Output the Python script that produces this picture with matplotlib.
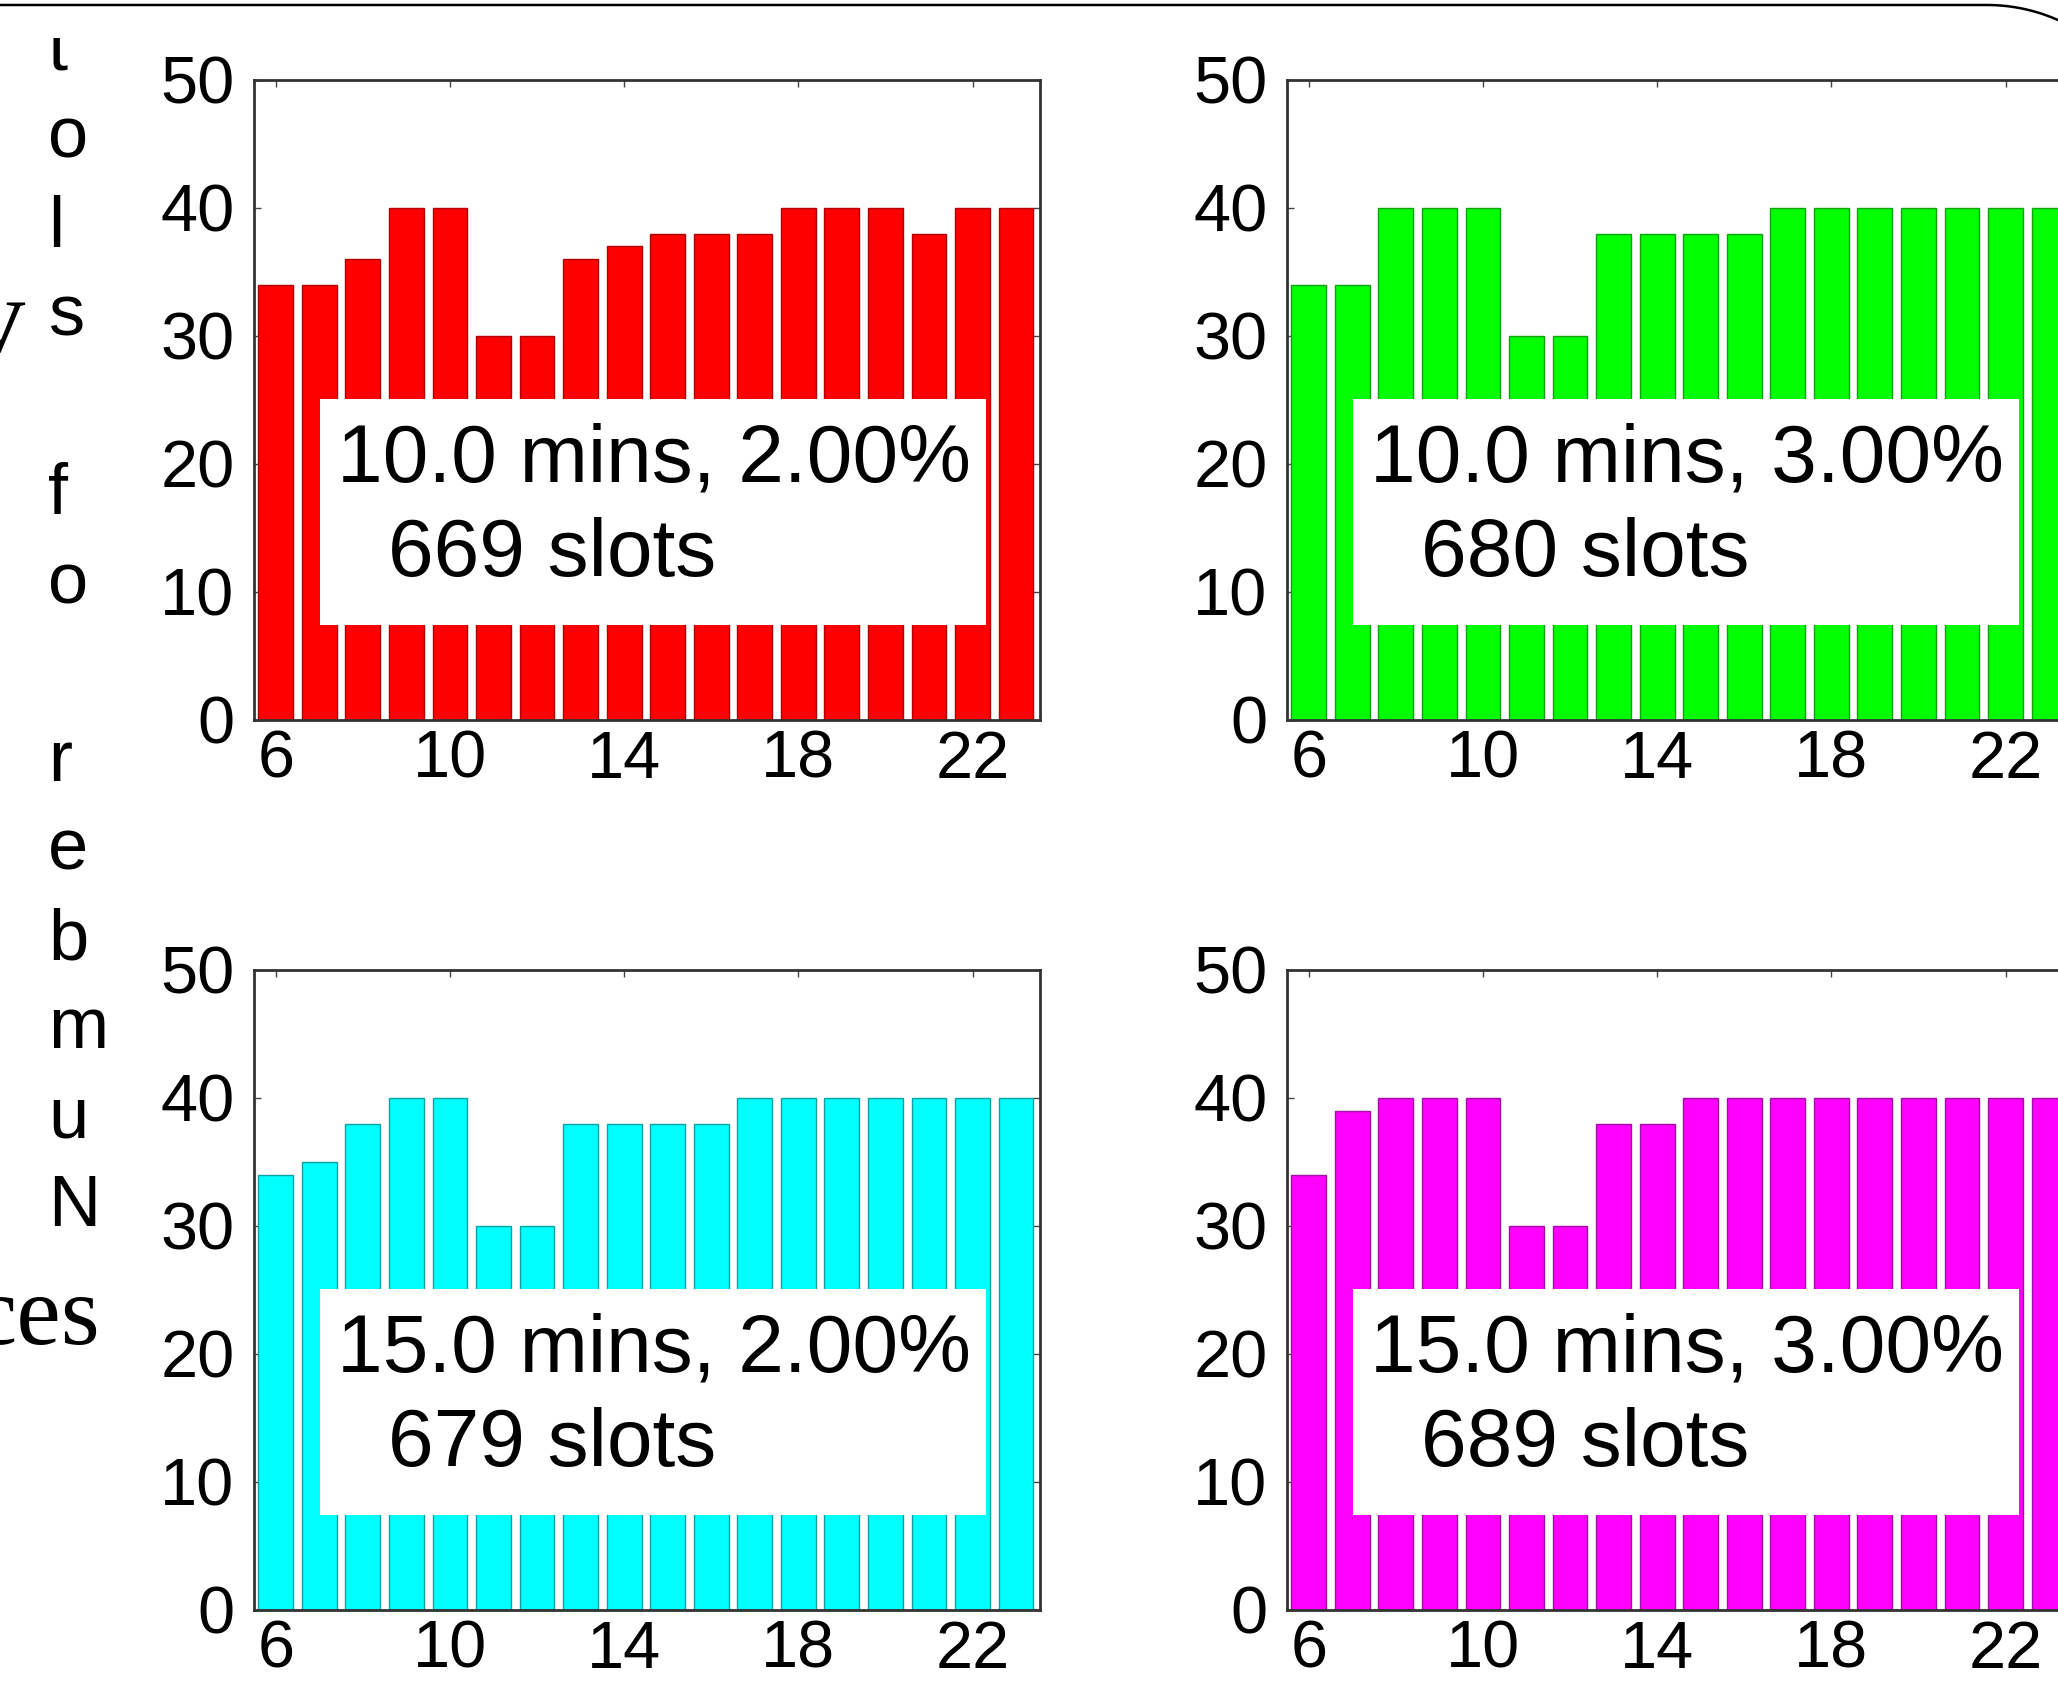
#!/usr/bin/env python3

import matplotlib
matplotlib.use('Agg')
import matplotlib.pyplot as plt
import numpy as np
from matplotlib.patches import Rectangle
from matplotlib.lines import Line2D
from matplotlib.transforms import IdentityTransform, Bbox

plt.rcParams['font.family'] = ['Liberation Sans', 'DejaVu Sans']

hours = list(range(6, 24))
slots_10m_2pct = [34, 34, 36, 40, 40, 30, 30, 36, 37, 38, 38, 38, 40, 40, 40, 38, 40, 40]
slots_10m_3pct = [34, 34, 40, 40, 40, 30, 30, 38, 38, 38, 38, 40, 40, 40, 40, 40, 40, 40]
slots_15m_2pct = [34, 35, 38, 40, 40, 30, 30, 38, 38, 38, 38, 40, 40, 40, 40, 40, 40, 40]
slots_15m_3pct = [34, 39, 40, 40, 40, 30, 30, 38, 38, 40, 40, 40, 40, 40, 40, 40, 40, 40]

panel_series = [slots_10m_2pct, slots_10m_3pct, slots_15m_2pct, slots_15m_3pct]
panel_titles = ['10.0 mins, 2.00%', '10.0 mins, 3.00%', '15.0 mins, 2.00%', '15.0 mins, 3.00%']
panel_totals = ['669 slots', '680 slots', '679 slots', '689 slots']
panel_colors = ['#ff0000', '#00ff00', '#00ffff', '#ff00ff']
edge_colors = ['#b00000', '#10a010', '#10a0a0', '#a010a0']

xticks = [6, 10, 14, 18, 22]
yticks = [0, 10, 20, 30, 40, 50]

W, H = 2058, 1688
fig = plt.figure(figsize=(W / 100, H / 100), dpi=100)

# panel placement in pixels (left, top)
ax_w, ax_h = 786, 640
corners = [(254, 80), (1287, 80), (254, 970), (1287, 970)]

for (px, py), vals, title, total, col, ecol in zip(
        corners, panel_series, panel_titles, panel_totals, panel_colors, edge_colors):
    ax = fig.add_axes([px / W, (H - py - ax_h) / H, ax_w / W, ax_h / H])
    ax.bar(hours, vals, width=0.8, color=col, edgecolor=ecol, linewidth=1.0, zorder=2)
    ax.set_xlim(5.5, 23.55)
    ax.set_ylim(0, 50)
    ax.set_xticks(xticks)
    ax.set_yticks(yticks)
    ax.tick_params(direction='in', top=True, right=True, length=5, width=1,
                   labelsize=48, color='#444444')
    ax.tick_params(axis='x', pad=7)
    ax.tick_params(axis='y', pad=14)
    for s in ax.spines.values():
        s.set_color('#333333')
        s.set_linewidth(2)
    ax.add_patch(Rectangle((0.084, 0.148), 0.847, 0.354, transform=ax.transAxes,
                           facecolor='white', edgecolor='none', zorder=3))
    ax.text(0.1056, 0.372, title, transform=ax.transAxes, fontsize=59,
            ha='left', va='baseline', zorder=4)
    ax.text(0.170, 0.225, total, transform=ax.transAxes, fontsize=59,
            ha='left', va='baseline', zorder=4)

# stacked y label, read bottom to top
ylabel = 'Number of slots'
clip = Bbox([[0, 0], [W, H - 38]])
for i, ch in enumerate(ylabel):
    if ch == ' ':
        continue
    t = fig.text(48 / W, (H - (1226 - 89 * i)) / H, ch, fontsize=52,
                 ha='left', va='baseline')
    t.set_clip_box(clip)

# slide text fragments around the picture
fig.text(25 / W, (H - 352) / H, 'v', fontsize=78, family='Liberation Serif',
         ha='right', va='baseline')
fig.text(100 / W, (H - 1344) / H, 'ces', fontsize=72, family='Liberation Serif',
         ha='right', va='baseline')

# slide border: top edge with a rounded corner at top right
r = 175
x0, ytop = 1987, H - 5
ang = np.linspace(np.pi / 2, np.pi / 2 - 0.5, 40)
bx = np.concatenate([[0, x0], x0 + r * np.cos(ang)])
by = np.concatenate([[ytop, ytop], ytop - r + r * np.sin(ang)])
fig.lines.append(Line2D(bx, by, transform=IdentityTransform(), color='black',
                        linewidth=1.8))

plt.savefig('out.png', dpi=100)
print('file saved : out.png')
